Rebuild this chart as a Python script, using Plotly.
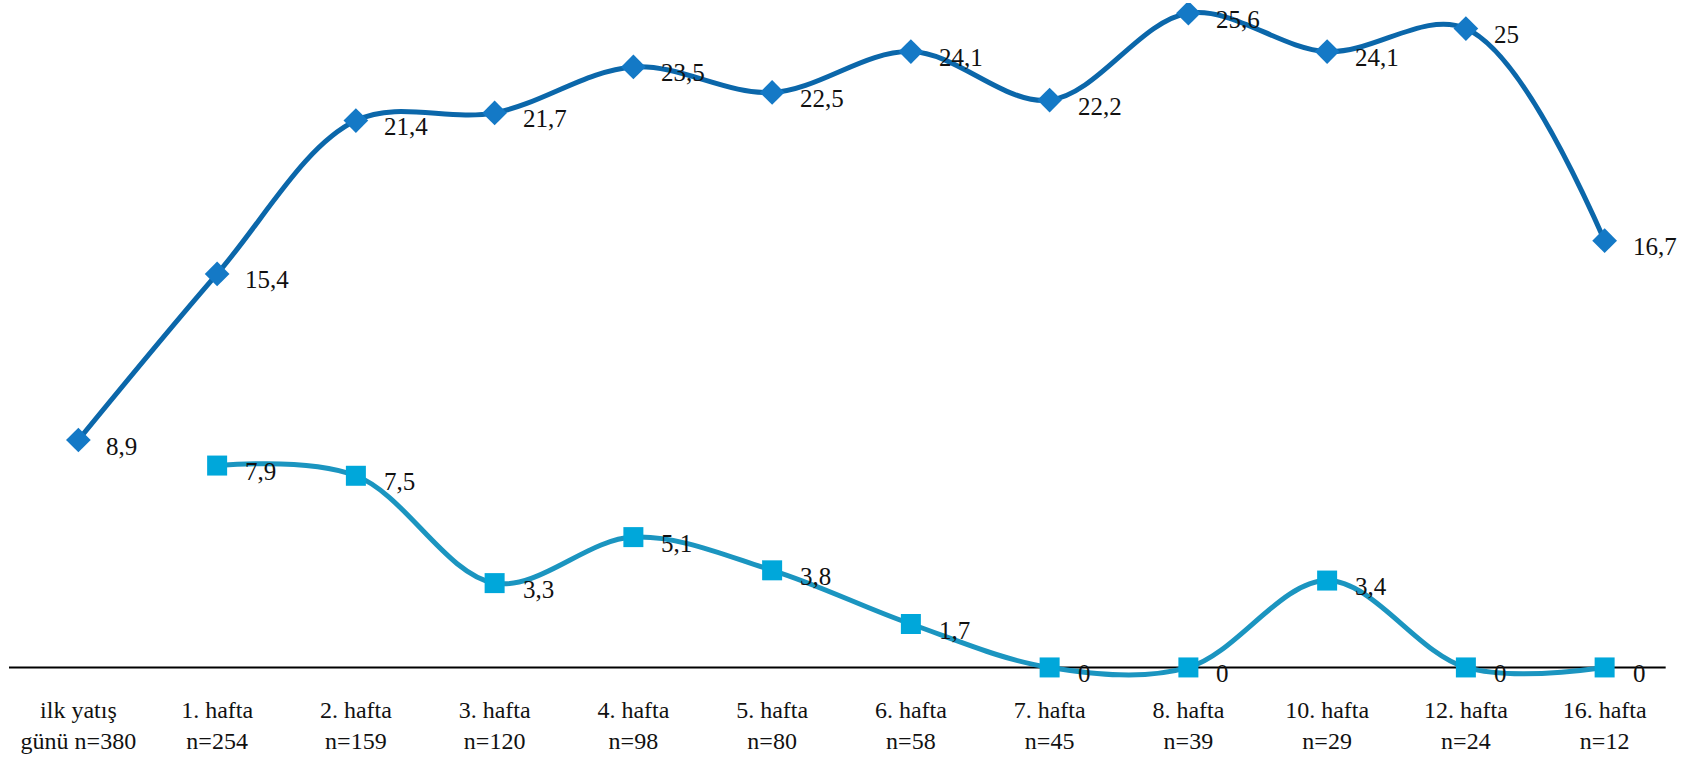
import plotly.graph_objects as go

categories = ["ilk yatış<br>günü n=380", "1. hafta<br>n=254", "2. hafta<br>n=159", "3. hafta<br>n=120",
              "4. hafta<br>n=98", "5. hafta<br>n=80", "6. hafta<br>n=58", "7. hafta<br>n=45",
              "8. hafta<br>n=39", "10. hafta<br>n=29", "12. hafta<br>n=24", "16. hafta<br>n=12"]
series_a = [8.9, 15.4, 21.4, 21.7, 23.5, 22.5, 24.1, 22.2, 25.6, 24.1, 25, 16.7]
series_b = [None, 7.9, 7.5, 3.3, 5.1, 3.8, 1.7, 0, 0, 3.4, 0, 0]

def fmt(v):
    return ("%g" % v).replace(".", ",")

fig = go.Figure()
fig.add_trace(go.Scatter(
    x=categories, y=series_a, mode="lines+markers",
    line=dict(color="#0B67AA", width=5, shape="spline", smoothing=1.0),
    marker=dict(symbol="diamond", size=19, color="#1479C6"),
    showlegend=False, hoverinfo="skip"))
fig.add_trace(go.Scatter(
    x=categories, y=series_b, mode="lines+markers",
    line=dict(color="#1B95C0", width=5, shape="spline", smoothing=1.0),
    marker=dict(symbol="square", size=20, color="#00A7DA"),
    showlegend=False, hoverinfo="skip", connectgaps=False))

annotations = []
for series in (series_a, series_b):
    for c, v in zip(categories, series):
        if v is None:
            continue
        annotations.append(dict(x=c, y=v, text=fmt(v), showarrow=False,
                                xanchor="left", yanchor="middle", xshift=26, yshift=-6,
                                font=dict(family="Liberation Serif", size=25, color="#111111")))

fig.add_shape(type="line", xref="paper", yref="y", x0=0, x1=0.995, y0=0, y1=0,
              line=dict(color="#000000", width=2), layer="below")

fig.update_layout(
    width=1696, height=757,
    margin=dict(l=9, r=22, t=3, b=64),
    paper_bgcolor="#ffffff", plot_bgcolor="#ffffff",
    font=dict(family="Liberation Serif", size=24, color="#111111"),
    annotations=annotations,
    xaxis=dict(type="category", range=[-0.5, 11.5], showgrid=False, zeroline=False,
               showline=False, ticks="", tickfont=dict(size=24), automargin=False),
    yaxis=dict(range=[-1, 26], showgrid=False, zeroline=False, showline=False,
               showticklabels=False, ticks=""),
)
fig.write_html("out.html", config={"displayModeBar": False},
               post_script="document.body.style.margin='0px';document.body.style.overflow='hidden';")
